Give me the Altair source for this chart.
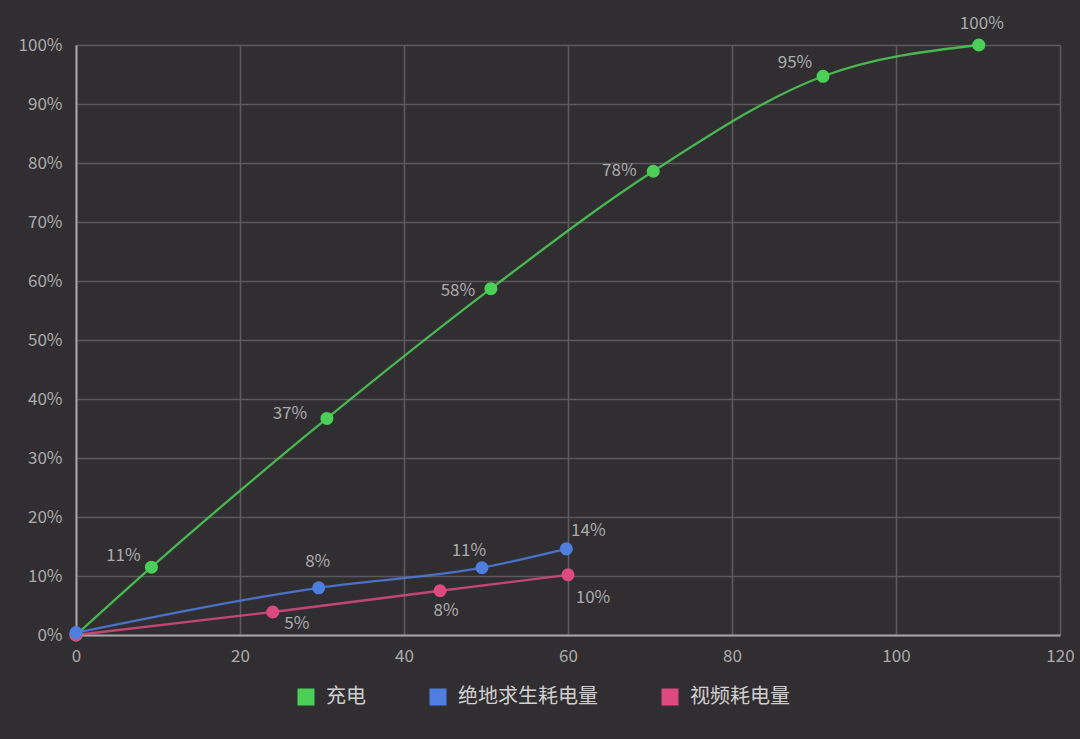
import altair as alt
import pandas as pd
from altair.utils import html as alt_html

# ---------------- data ----------------
series_names = ["充电", "绝地求生耗电量", "视频耗电量"]
series_colors = ["#4ccf57", "#4d7ee0", "#dc4a7e"]

charge_x = [0, 9.2, 30.6, 50.6, 70.4, 91.1, 110.1]
charge_y = [0, 11.5, 36.7, 58.7, 78.6, 94.7, 100]
charge_labels = ["", "11%", "37%", "58%", "78%", "95%", "100%"]

game_x = [0, 29.6, 49.5, 59.8]
game_y = [0.4, 8.0, 11.4, 14.6]
game_labels = ["", "8%", "11%", "14%"]

video_x = [0, 24.0, 44.4, 60.0]
video_y = [0, 3.9, 7.5, 10.2]
video_labels = ["", "5%", "8%", "10%"]

x_ticks = [0, 20, 40, 60, 80, 100, 120]
y_ticks = [0, 10, 20, 30, 40, 50, 60, 70, 80, 90, 100]

rows = []
for name, xs, ys, labs in [
    (series_names[0], charge_x, charge_y, charge_labels),
    (series_names[1], game_x, game_y, game_labels),
    (series_names[2], video_x, video_y, video_labels),
]:
    for i, (xv, yv, lb) in enumerate(zip(xs, ys, labs)):
        rows.append({"series": name, "idx": i, "x": xv, "y": yv, "label": lb})
df = pd.DataFrame(rows)

# label placement (pixel offsets from the point), kept out of the data
label_offsets = {
    (series_names[0], 1): (-28, -11),
    (series_names[0], 2): (-37, -4),
    (series_names[0], 3): (-33, 2),
    (series_names[0], 4): (-34, 0),
    (series_names[0], 5): (-28, -13),
    (series_names[0], 6): (3, -21),
    (series_names[1], 1): (-1, -26),
    (series_names[1], 2): (-13, -17),
    (series_names[1], 3): (22, -18),
    (series_names[2], 1): (24, 12),
    (series_names[2], 2): (6, 20),
    (series_names[2], 3): (25, 23),
}

FONT = "Noto Sans CJK SC"
BG = "#312e32"

x_enc = alt.X(
    "x:Q",
    scale=alt.Scale(domain=[0, 120], nice=False, zero=True),
    axis=alt.Axis(values=x_ticks, title=None, labelPadding=13, labelFlush=False),
)
y_enc = alt.Y(
    "y:Q",
    scale=alt.Scale(domain=[0, 100], nice=False),
    axis=alt.Axis(values=y_ticks, title=None, labelExpr="datum.value + '%'",
                  labelPadding=14, labelFlush=False),
)

LEGEND_PAD = 220

color_enc = alt.Color(
    "series:N",
    scale=alt.Scale(domain=series_names, range=series_colors),
    legend=alt.Legend(
        title=None,
        orient="bottom",
        direction="horizontal",
        padding=LEGEND_PAD,
        offset=23 - LEGEND_PAD,
        symbolType="square",
        symbolSize=289,
        symbolStrokeWidth=0,
        symbolOpacity=1,
        labelFont=FONT,
        labelFontSize=20,
        labelColor="#cfcfcf",
        labelOffset=10,
        columnPadding=62,
    ),
)

base = alt.Chart(df)

lines = base.mark_line(interpolate="monotone", strokeWidth=2.3, opacity=0.85).encode(
    x=x_enc,
    y=y_enc,
    color=color_enc,
    order=alt.Order("idx:Q"),
)

points = (
    base.transform_calculate(
        z="datum.series == '绝地求生耗电量' ? 3 : (datum.series == '视频耗电量' ? 2 : 1)"
    )
    .mark_circle(size=170, opacity=1)
    .encode(
        x=x_enc,
        y=y_enc,
        color=color_enc,
        order=alt.Order("z:Q"),
    )
)

text_layers = []
for (sname, idx), (dx, dy) in label_offsets.items():
    text_layers.append(
        base.transform_filter(
            f"datum.series == '{sname}' && datum.idx == {idx}"
        )
        .mark_text(
            font=FONT, fontSize=17, color="#ababab", dx=dx, dy=dy,
            align="center", baseline="middle",
        )
        .encode(x=x_enc, y=y_enc, text="label:N")
    )

chart = (
    alt.layer(lines, points, *text_layers)
    .properties(
        width=984,
        height=590,
        background=BG,
        padding={"left": 76, "top": 45, "right": 20, "bottom": 104},
        autosize=alt.AutoSizeParams(type="none"),
    )
    .configure_view(stroke=None)
    .configure_axis(
        labelFont=FONT,
        labelFontSize=17,
        labelColor="#ababab",
        gridColor="#5c5a5d",
        gridWidth=1.6,
        gridOpacity=1,
        domainColor="#a5a5a5",
        domainWidth=2,
        ticks=False,
    )
)


class _Tpl:
    def render(self, **kw):
        out = alt_html.TEMPLATES["standard"].render(**kw)
        style = "<style>html,body{margin:0;padding:0;background:%s;overflow:hidden}</style>" % BG
        return out.replace("<head>", "<head>\n" + style, 1)


try:
    chart.save("out.html", embed_options={"renderer": "svg", "actions": False}, template=_Tpl())
except Exception:
    chart.save("out.html", embed_options={"renderer": "svg", "actions": False})
